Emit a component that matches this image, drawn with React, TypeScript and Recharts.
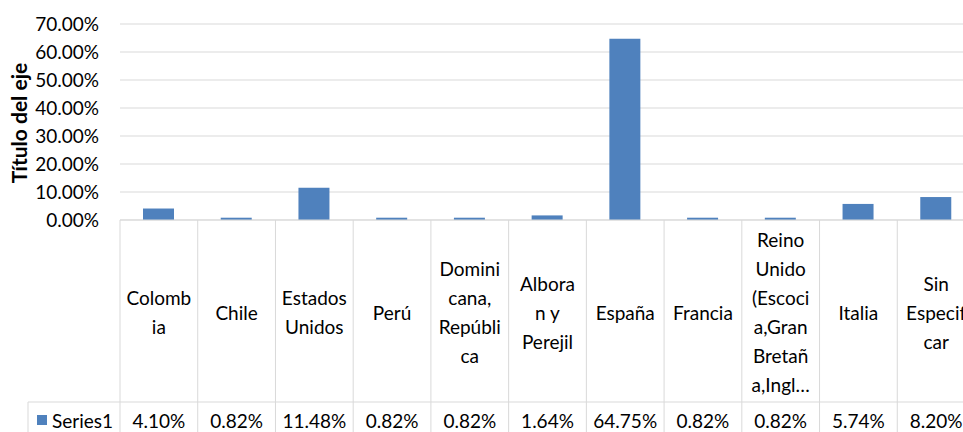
import React from 'react';
import { BarChart, Bar, XAxis, YAxis, CartesianGrid, Label } from 'recharts';

const countries = [
  'Colombia', 'Chile', 'Estados Unidos', 'Perú', 'Dominicana, República',
  'Alboran y Perejil', 'España', 'Francia',
  'Reino Unido (Escocia,Gran Bretaña,Inglaterra)', 'Italia', 'Sin Especificar',
];
// wrapped the way the table cell shows them
const wrappedLabels = [
  ['Colomb', 'ia'],
  ['Chile'],
  ['Estados', 'Unidos'],
  ['Perú'],
  ['Domini', 'cana,', 'Repúbli', 'ca'],
  ['Albora', 'n y', 'Perejil'],
  ['España'],
  ['Francia'],
  ['Reino', 'Unido', '(Escoci', 'a,Gran', 'Bretañ', 'a,Ingl…'],
  ['Italia'],
  ['Sin', 'Especif', 'car'],
];
const series1 = [4.1, 0.82, 11.48, 0.82, 0.82, 1.64, 64.75, 0.82, 0.82, 5.74, 8.2];
const yTicks = [0, 10, 20, 30, 40, 50, 60, 70];

const data = countries.map((name, i) => ({ name, Series1: series1[i] }));

const W = 980;
const H = 432;
const M = { top: 24, right: 5, left: 0, bottom: 0 };
const Y_W = 120;
const X_H = 212;
const BAND = (W - M.right - M.left - Y_W) / countries.length;
const HEADER_H = 182;
const LINE_H = 29;

const FONT = 'Lato, "DejaVu Sans", sans-serif';
const FS = 19;
const GRID = '#D9D9D9';
const BLUE = '#4F81BD';

const pct = (v: number) => `${v.toFixed(2)}%`;

const TableTick = (props: any) => {
  const { x, y, payload } = props;
  const i = payload.index;
  const lines = wrappedLabels[i];
  const mid = y + HEADER_H / 2 + 1;
  const first = mid - ((lines.length - 1) * LINE_H) / 2;
  const left = x - BAND / 2;
  const right = x + BAND / 2;
  return (
    <g>
      <line x1={left} x2={left} y1={y} y2={H} stroke={GRID} />
      {i === countries.length - 1 && <line x1={right} x2={right} y1={y} y2={H} stroke={GRID} />}
      <line x1={left} x2={right} y1={y + HEADER_H} y2={y + HEADER_H} stroke={GRID} />
      {lines.map((t, k) => (
        <text key={k} x={x} y={first + k * LINE_H} textAnchor="middle" dominantBaseline="central"
          fontSize={FS} fontFamily={FONT} fill="#000">{t}</text>
      ))}
      <text x={x} y={y + HEADER_H + 18} textAnchor="middle" dominantBaseline="central"
        fontSize={FS} fontFamily={FONT} fill="#000">{pct(series1[i])}</text>
      {i === 0 && (
        <g>
          <line x1={28} x2={left} y1={y + HEADER_H} y2={y + HEADER_H} stroke={GRID} />
          <line x1={28} x2={28} y1={y + HEADER_H} y2={H} stroke={GRID} />
          <rect x={37} y={y + HEADER_H + 13} width={10} height={10} fill={BLUE} />
          <text x={52} y={y + HEADER_H + 18} dominantBaseline="central"
            fontSize={FS} fontFamily={FONT} fill="#000">Series1</text>
        </g>
      )}
    </g>
  );
};

export default function App() {
  return (
    <div style={{ position: 'absolute', left: 0, top: 0, width: 963, height: 432, overflow: 'hidden', background: '#fff' }}>
      <BarChart width={W} height={H} data={data} margin={M} barSize={31}>
        <CartesianGrid vertical={false} stroke={GRID} />
        <XAxis dataKey="name" height={X_H} interval={0} tickLine={false} tickSize={0} tickMargin={0}
          axisLine={{ stroke: GRID }} tick={<TableTick />} />
        <YAxis width={Y_W} domain={[0, 70]} ticks={yTicks} axisLine={false} tickLine={false}
          tickMargin={15} tickFormatter={pct}
          tick={{ fontSize: FS, fontFamily: FONT, fill: '#000' }}>
          <Label content={({ viewBox }: any) => (
            <text x={18} y={viewBox.y + viewBox.height / 2 + 1} transform={`rotate(-90 18 ${viewBox.y + viewBox.height / 2 + 1})`}
              textAnchor="middle" dominantBaseline="central" fontSize={21} fontWeight="bold"
              fontFamily={FONT} fill="#000">Título del eje</text>
          )} />
        </YAxis>
        <Bar dataKey="Series1" fill={BLUE} isAnimationActive={false} />
      </BarChart>
    </div>
  );
}
